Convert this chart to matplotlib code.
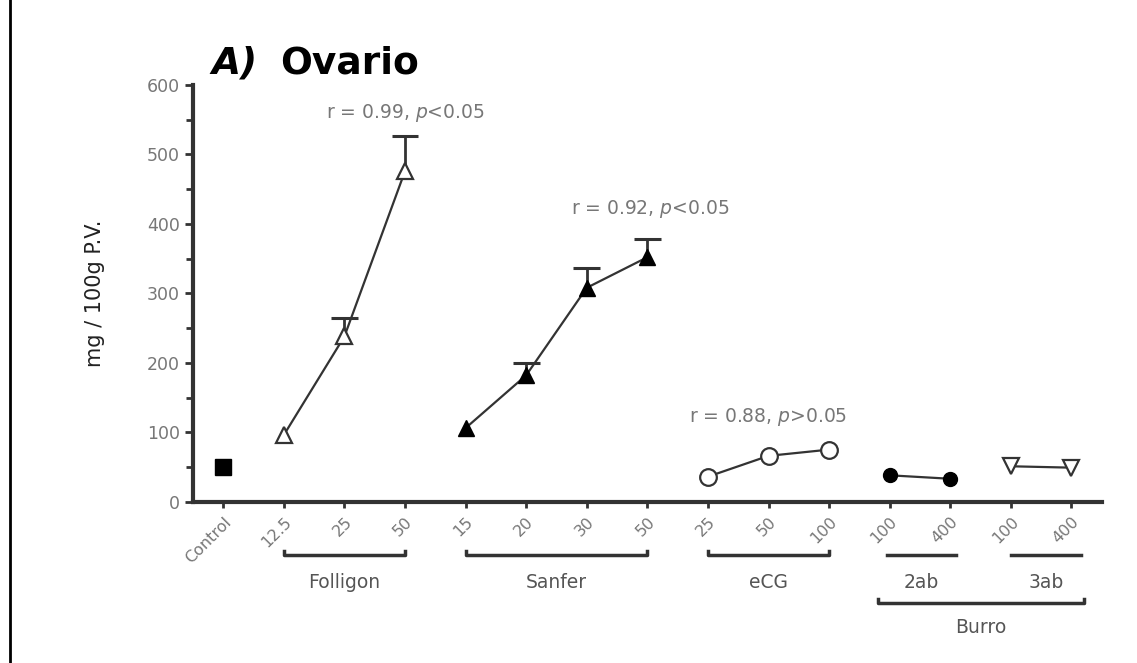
import matplotlib
matplotlib.use('Agg')
from matplotlib import pyplot as plt
from matplotlib.lines import Line2D

plt.rcParams['font.family'] = ['DejaVu Sans']

# x categories (dose labels along the axis)
doses = ['Control', '12.5', '25', '50', '15', '20', '30', '50',
         '25', '50', '100', '100', '400', '100', '400']

# series: positions on the category axis, means, upper error
control_x = [0]
control_y = [50]

folligon_x = [1, 2, 3]
folligon_y = [96, 238, 476]
folligon_err = [0, 27, 50]

sanfer_x = [4, 5, 6, 7]
sanfer_y = [106, 182, 308, 352]
sanfer_err = [0, 18, 28, 26]

ecg_x = [8, 9, 10]
ecg_y = [36, 66, 75]

burro2_x = [11, 12]
burro2_y = [38, 33]

burro3_x = [13, 14]
burro3_y = [51, 49]

# group labels below the axis
groups = ['Folligon', 'Sanfer', 'eCG']
group_span = [(1, 3), (4, 7), (8, 10)]
subgroups = ['2ab', '3ab']
subgroup_span = [(10.95, 12.1), (13.0, 14.15)]
super_label = 'Burro'
super_span = (10.8, 14.2)

stats = ['r = 0.99, $p$<0.05', 'r = 0.92, $p$<0.05', 'r = 0.88, $p$>0.05']
stats_pos = [(3.0, 560), (7.05, 422), (9.0, 122)]

lc = '#333333'
gray = '#777777'


def up_errors(ax, xs, ys, errs):
    # upper-only error bars with a cap, as in the original
    for x, y, e in zip(xs, ys, errs):
        if e > 0:
            ax.vlines(x, y, y + e, color=lc, lw=2, zorder=1)
            ax.hlines(y + e, x - 0.22, x + 0.22, color=lc, lw=2.2, zorder=1)


fig = plt.figure(figsize=(11.37, 6.63), dpi=100)
ax = fig.add_axes([0.1697, 0.2433, 0.7993, 0.6285])

ax.plot(control_x, control_y, 's', ms=11, color='black', clip_on=False)
up_errors(ax, folligon_x, folligon_y, folligon_err)
ax.plot(folligon_x, folligon_y, '-^', ms=12, mfc='white', mec=lc, color=lc, lw=1.6, mew=1.6)
up_errors(ax, sanfer_x, sanfer_y, sanfer_err)
ax.plot(sanfer_x, sanfer_y, '-^', ms=11, mfc='black', mec='black', color=lc, lw=1.6)
ax.plot(ecg_x, ecg_y, '-o', ms=12, mfc='white', mec=lc, color=lc, lw=1.6, mew=1.6)
ax.plot(burro2_x, burro2_y, '-o', ms=10, mfc='black', mec='black', color=lc, lw=1.6)
ax.plot(burro3_x, burro3_y, '-v', ms=12, mfc='white', mec=lc, color=lc, lw=1.6, mew=1.6)

ax.set_xlim(-0.5, 14.5)
ax.set_ylim(0, 600)
ax.set_yticks(range(0, 601, 100))
ax.set_yticks(range(50, 600, 100), minor=True)
ax.set_xticks(range(len(doses)))
ax.set_xticklabels(doses, rotation=45, ha='right', rotation_mode='anchor',
                   fontsize=11.5, color=gray)
ax.tick_params(axis='y', labelsize=12.5, labelcolor=gray, width=2, length=6, color=lc)
ax.tick_params(axis='y', which='minor', width=2, length=5, color=lc)
ax.tick_params(axis='x', width=2, length=4, color=lc, pad=5)
for s in ['top', 'right']:
    ax.spines[s].set_visible(False)
for s in ['left', 'bottom']:
    ax.spines[s].set_linewidth(3)
    ax.spines[s].set_color(lc)

ax.set_ylabel('mg / 100g P.V.', fontsize=15, labelpad=30, color='#222222')

for txt, (x, y) in zip(stats, stats_pos):
    ax.text(x, y, txt, fontsize=13.5, color=gray, ha='center', va='center')

tr = ax.get_xaxis_transform()
for name, (a, b) in zip(groups, group_span):
    ax.plot([a, a, b, b], [-0.118, -0.128, -0.128, -0.118], color=lc, lw=2.5,
            transform=tr, clip_on=False)
    ax.text((a + b) / 2, -0.195, name, transform=tr, ha='center', va='center',
            fontsize=13.5, color='#555555')
for name, (a, b) in zip(subgroups, subgroup_span):
    ax.plot([a, b], [-0.128, -0.128], color=lc, lw=2.5, transform=tr, clip_on=False)
    ax.text((a + b) / 2, -0.195, name, transform=tr, ha='center', va='center',
            fontsize=13.5, color='#555555')
a, b = super_span
ax.plot([a, a, b, b], [-0.233, -0.243, -0.243, -0.233], color=lc, lw=2.5,
        transform=tr, clip_on=False)
ax.text((a + b) / 2, -0.302, super_label, transform=tr, ha='center', va='center',
        fontsize=13.5, color='#555555')

# title
fig.text(0.186, 0.889, 'A)', fontsize=27, fontweight='bold', style='italic',
         ha='left', va='baseline')
fig.text(0.246, 0.889, 'Ovario', fontsize=27, fontweight='bold', ha='left', va='baseline')

# frame line at the left edge
fig.add_artist(Line2D([0.0085, 0.0085], [0, 1], color='black', lw=2,
                      transform=fig.transFigure))

fig.savefig('out.png', dpi=100)
